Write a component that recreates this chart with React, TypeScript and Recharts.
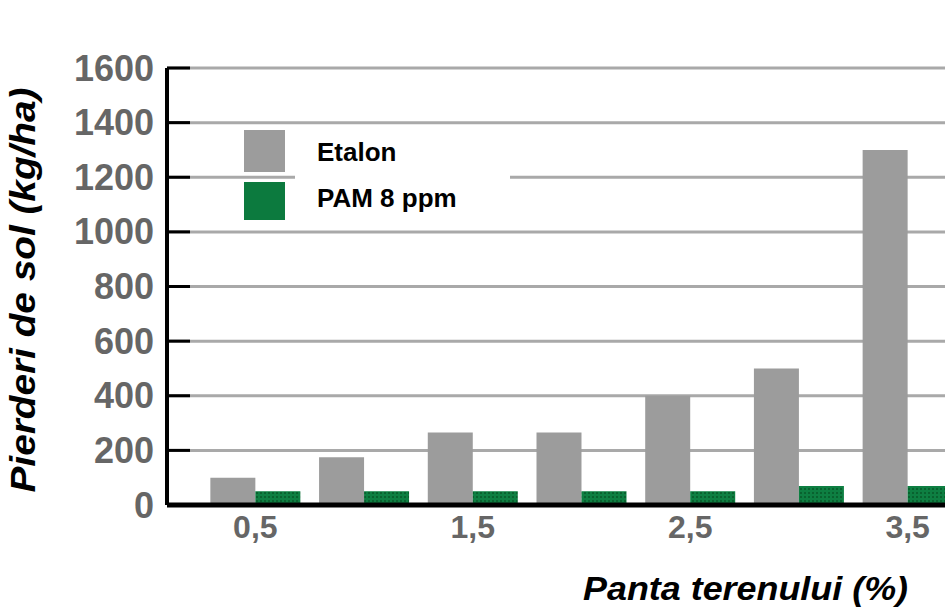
import React from "react";
import { BarChart, Bar, XAxis, YAxis, CartesianGrid, Legend, Label } from "recharts";

const categories = ["0,5", "1", "1,5", "2", "2,5", "3", "3,5"];
const etalon = [100, 175, 265, 265, 400, 500, 1300];
const pam = [50, 50, 50, 50, 50, 70, 70];
const yTicks = [0, 200, 400, 600, 800, 1000, 1200, 1400, 1600];

const data = categories.map((c, i) => ({ cat: c, etalon: etalon[i], pam: pam[i] }));

const GRAY = "#9c9c9c";
const GREEN = "#0c7a3e";
const FONT = "'Liberation Sans', Arial, sans-serif";

const YTick = (props: any) => {
  const { x, y, payload } = props;
  return (
    <g>
      <line x1={x} x2={x + 23} y1={y} y2={y} stroke="#000" strokeWidth={3} />
      <text x={x - 13} y={y} textAnchor="end" dominantBaseline="central" fontFamily={FONT} fontSize={36} fontWeight="bold" fill="#666">
        {payload.value}
      </text>
    </g>
  );
};

const XTick = (props: any) => {
  const { x, y, payload } = props;
  return (
    <text x={x} y={y + 33} textAnchor="middle" fontFamily={FONT} fontSize={32} fontWeight="bold" fill="#666">
      {payload.value}
    </text>
  );
};

const LegendContent = () => (
  <div style={{ position: "relative", width: 270, height: 100, fontFamily: FONT }}>
    <div style={{ position: "absolute", left: 51, top: 0, width: 215, height: 100, background: "#fff" }} />
    <div style={{ position: "absolute", left: 0, top: 4, width: 41, height: 42, background: GRAY }} />
    <div style={{ position: "absolute", left: 0, top: 56, width: 41, height: 38, background: GREEN }} />
    <span style={{ position: "absolute", left: 73, top: 13, fontSize: 26, lineHeight: "26px", fontWeight: "bold", color: "#000", whiteSpace: "nowrap" }}>Etalon</span>
    <span style={{ position: "absolute", left: 73, top: 59, fontSize: 26, lineHeight: "26px", fontWeight: "bold", color: "#000", whiteSpace: "nowrap" }}>PAM 8 ppm</span>
  </div>
);

export default function App() {
  return (
    <div style={{ position: "absolute", left: 0, top: 0, width: 945, height: 616, overflow: "hidden", background: "#fff" }}>
      <BarChart
        width={962}
        height={616}
        data={data}
        margin={{ top: 68, right: 0, left: 0, bottom: 0 }}
        barCategoryGap="8.6%"
        barGap={0}
      >
        <defs>
          <pattern id="greenPat" width="4" height="4" patternUnits="userSpaceOnUse">
            <rect width="4" height="4" fill="#0e7f42" />
            <rect width="2" height="2" fill="#09622f" />
          </pattern>
        </defs>
        <CartesianGrid vertical={false} stroke="#a9a9a9" strokeWidth={3} />
        <XAxis
          dataKey="cat"
          interval={1}
          height={111}
          padding={{ left: 34, right: 0 }}
          axisLine={{ stroke: "#000", strokeWidth: 5 }}
          tickLine={false}
          tickSize={0}
          tickMargin={0}
          tick={<XTick />}
        >
          <Label
            content={() => (
              <text x={583} y={600} fontFamily={FONT} fontSize={33} fontWeight="bold" fontStyle="italic" fill="#000" textLength={325} lengthAdjust="spacingAndGlyphs">
                Panta terenului (%)
              </text>
            )}
          />
        </XAxis>
        <YAxis
          width={167}
          domain={[0, 1600]}
          ticks={yTicks}
          interval={0}
          axisLine={{ stroke: "#000", strokeWidth: 4 }}
          tickLine={false}
          tickSize={0}
          tickMargin={0}
          tick={<YTick />}
        >
          <Label
            content={() => (
              <text
                x={35}
                y={290}
                transform="rotate(-90, 35, 290)"
                textAnchor="middle"
                fontFamily={FONT}
                fontSize={35}
                fontWeight="bold"
                fontStyle="italic"
                fill="#000"
                textLength={405}
                lengthAdjust="spacingAndGlyphs"
              >
                Pierderi de sol (kg/ha)
              </text>
            )}
          />
        </YAxis>
        <Legend
          layout="vertical"
          align="center"
          verticalAlign="middle"
          content={<LegendContent />}
          wrapperStyle={{ position: "absolute", left: 244, top: 126, width: 270, height: 100 }}
        />
        <Bar dataKey="etalon" name="Etalon" fill={GRAY} isAnimationActive={false} />
        <Bar dataKey="pam" name="PAM 8 ppm" fill="url(#greenPat)" isAnimationActive={false} />
      </BarChart>
    </div>
  );
}
